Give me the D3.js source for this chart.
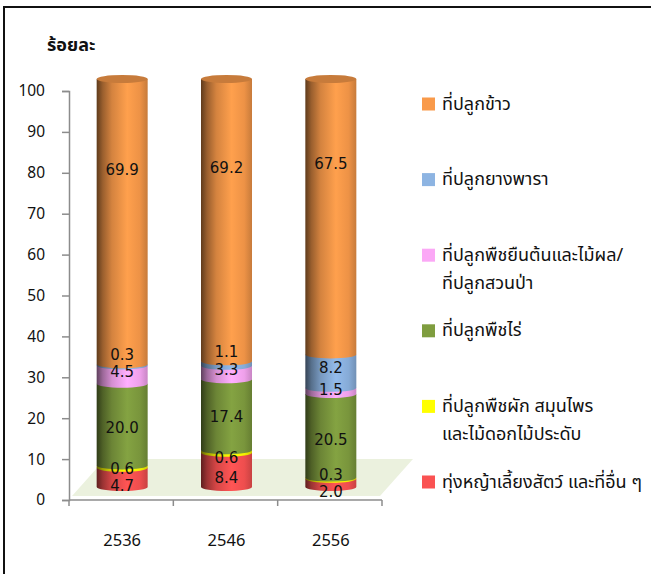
<!DOCTYPE html>
<html>
<head>
<meta charset="utf-8">
<script src="https://cdn.jsdelivr.net/npm/d3@7"></script>
<style>
  html, body { margin: 0; padding: 0; background: #fff; }
  svg { display: block; }
  text { font-family: Tahoma, "Noto Sans Thai", "Noto Sans", "DejaVu Sans", sans-serif; fill: #111; }
</style>
</head>
<body>
<div id="chart"></div>
<script>
// ---- data ----
const categories = ["2536", "2546", "2556"];
const pasture    = [4.7, 8.4, 2.0];    // ทุ่งหญ้าเลี้ยงสัตว์ และที่อื่น ๆ
const vegetables = [0.6, 0.6, 0.3];    // ที่ปลูกพืชผัก สมุนไพร และไม้ดอกไม้ประดับ
const fieldCrops = [20.0, 17.4, 20.5]; // ที่ปลูกพืชไร่
const perennial  = [4.5, 3.3, 1.5];    // ที่ปลูกพืชยืนต้นและไม้ผล/ที่ปลูกสวนป่า
const rubber     = [0.3, 1.1, 8.2];    // ที่ปลูกยางพารา
const rice       = [69.9, 69.2, 67.5]; // ที่ปลูกข้าว
const seriesNames = [
  ["ทุ่งหญ้าเลี้ยงสัตว์ และที่อื่น ๆ"],
  ["ที่ปลูกพืชผัก สมุนไพร", "และไม้ดอกไม้ประดับ"],
  ["ที่ปลูกพืชไร่"],
  ["ที่ปลูกพืชยืนต้นและไม้ผล/", "ที่ปลูกสวนป่า"],
  ["ที่ปลูกยางพารา"],
  ["ที่ปลูกข้าว"]
];
const seriesValues = [pasture, vegetables, fieldCrops, perennial, rubber, rice];
const seriesColors = ["#FA5252", "#FFFF00", "#7F9D3F", "#FBA8F6", "#8DB4E2", "#F99A4A"];
const yTitle = "ร้อยละ";

// ---- layout ----
const W = 651, H = 574;
const svg = d3.select("#chart").append("svg").attr("width", W).attr("height", H);
const defs = svg.append("defs");

// frame
svg.append("rect").attr("x", 4).attr("y", 7).attr("width", 700).attr("height", 700)
  .attr("fill", "none").attr("stroke", "#111").attr("stroke-width", 2);

const x = d3.scaleBand().domain(categories).range([69, 382]).paddingInner(0).paddingOuter(0);
const yAxisScale = d3.scaleLinear().domain([0, 100]).range([500, 91]);
const yBar = d3.scaleLinear().domain([0, 100]).range([487, 79]);
// data-label placement scale (3D projection of label anchors)
const yLabel = d3.scaleLinear().domain([0, 32, 100]).range([497, 352, -22]);

// floor (3D plane)
const depth = 33, depthY = 37;
const fl = x.range()[0] + 3, fr = x.range()[1] - 2, fy = 496;
svg.append("path")
  .attr("d", `M${fl},${fy} L${fr},${fy} L${fr + depth},${fy - depthY} L${fl + depth},${fy - depthY} Z`)
  .attr("fill", "#EBF1DE");

// axes
const axisColor = "#8c8c8c";
const yAxis = svg.append("g").attr("transform", "translate(69,0)")
  .call(d3.axisLeft(yAxisScale).ticks(10).tickSize(7).tickSizeOuter(7).tickPadding(17));
yAxis.selectAll("path, line").attr("stroke", axisColor).attr("stroke-width", 1.5);
yAxis.selectAll("text").attr("font-size", 15.5).attr("fill", "#111")
  .style("font-family", "Tahoma, 'Noto Sans', 'DejaVu Sans', sans-serif");

const xAxisG = svg.append("g");
xAxisG.append("line").attr("x1", x.range()[0]).attr("x2", x.range()[1])
  .attr("y1", 500).attr("y2", 500).attr("stroke", axisColor).attr("stroke-width", 1.5);
const edges = categories.map(c => x(c)).concat([x(categories[categories.length - 1]) + x.step()]);
xAxisG.selectAll("line.tk").data(edges).join("line").attr("class", "tk")
  .attr("x1", d => d).attr("x2", d => d).attr("y1", 500).attr("y2", 506)
  .attr("stroke", axisColor).attr("stroke-width", 1.5);
xAxisG.selectAll("text").data(categories).join("text")
  .attr("x", d => x(d) + x.bandwidth() / 2 + 1).attr("y", 540)
  .attr("text-anchor", "middle").attr("dominant-baseline", "central")
  .attr("font-size", 16.5).text(d => d);

// y title
svg.append("text").attr("x", 47).attr("y", 45).attr("dominant-baseline", "central")
  .attr("font-size", 18).attr("font-weight", "bold").text(yTitle);

// gradients for cylinders
seriesColors.forEach((c, i) => {
  const g = defs.append("linearGradient").attr("id", "cyl" + i)
    .attr("x1", "0%").attr("x2", "100%").attr("y1", "0%").attr("y2", "0%");
  const stops = [[0, 0.38], [0.12, 0.62], [0.3, 0.85], [0.6, 1.04], [0.85, 0.95], [1, 0.8]];
  stops.forEach(([o, k]) => {
    const col = d3.rgb(c);
    const cc = d3.rgb(Math.min(255, col.r * k), Math.min(255, col.g * k), Math.min(255, col.b * k));
    g.append("stop").attr("offset", o).attr("stop-color", cc.formatHex());
  });
});

// stacked cylinders
const barW = 51, ry = 4, minGap = 17.5;
const barsG = svg.append("g");
const labelsG = svg.append("g");
categories.forEach((cat, ci) => {
  const cx = x(cat) + x.bandwidth() / 2 + 1;
  const left = cx - barW / 2, right = cx + barW / 2;
  let cum = 0;
  const segs = seriesValues.map((vals, si) => {
    const s = { si, v: vals[ci], y0: cum, y1: cum + vals[ci] };
    cum += vals[ci];
    return s;
  });
  segs.forEach(s => {
    const yt = yBar(s.y1), yb = yBar(s.y0);
    barsG.append("path")
      .attr("d", `M${left},${yt} L${left},${yb} A${barW / 2},${ry} 0 0 0 ${right},${yb} L${right},${yt} Z`)
      .attr("fill", `url(#cyl${s.si})`);
  });
  // top cap
  const top = segs[segs.length - 1];
  const topCol = d3.rgb(seriesColors[top.si]);
  barsG.append("ellipse").attr("cx", cx).attr("cy", yBar(top.y1)).attr("rx", barW / 2).attr("ry", ry)
    .attr("fill", d3.rgb(topCol.r * 0.8, topCol.g * 0.8, topCol.b * 0.8).formatHex());
  // labels: anchor then push apart so they do not collide
  let prev = Infinity;
  segs.forEach(s => {
    let ly = yLabel((s.y0 + s.y1) / 2);
    if (ly > prev - minGap) ly = prev - minGap;
    prev = ly;
    labelsG.append("text").attr("x", cx).attr("y", ly)
      .attr("text-anchor", "middle").attr("dominant-baseline", "central")
      .attr("font-size", 15).attr("fill", "#111")
      .style("font-family", "Tahoma, 'DejaVu Sans', sans-serif")
      .text(d3.format(".1f")(s.v));
  });
});

// legend (top-down reverse of stack)
const legendOrder = d3.range(seriesValues.length).reverse();
const lyScale = d3.scalePoint().domain(legendOrder).range([104, 482]);
const legend = svg.append("g");
legendOrder.forEach(si => {
  const yy = lyScale(si);
  legend.append("rect").attr("x", 422).attr("y", yy - 6.5).attr("width", 13).attr("height", 13)
    .attr("fill", seriesColors[si]);
  seriesNames[si].forEach((line, li) => {
    legend.append("text").attr("x", 442).attr("y", yy + li * 28)
      .attr("dominant-baseline", "central").attr("font-size", 18).text(line);
  });
});
</script>
</body>
</html>
